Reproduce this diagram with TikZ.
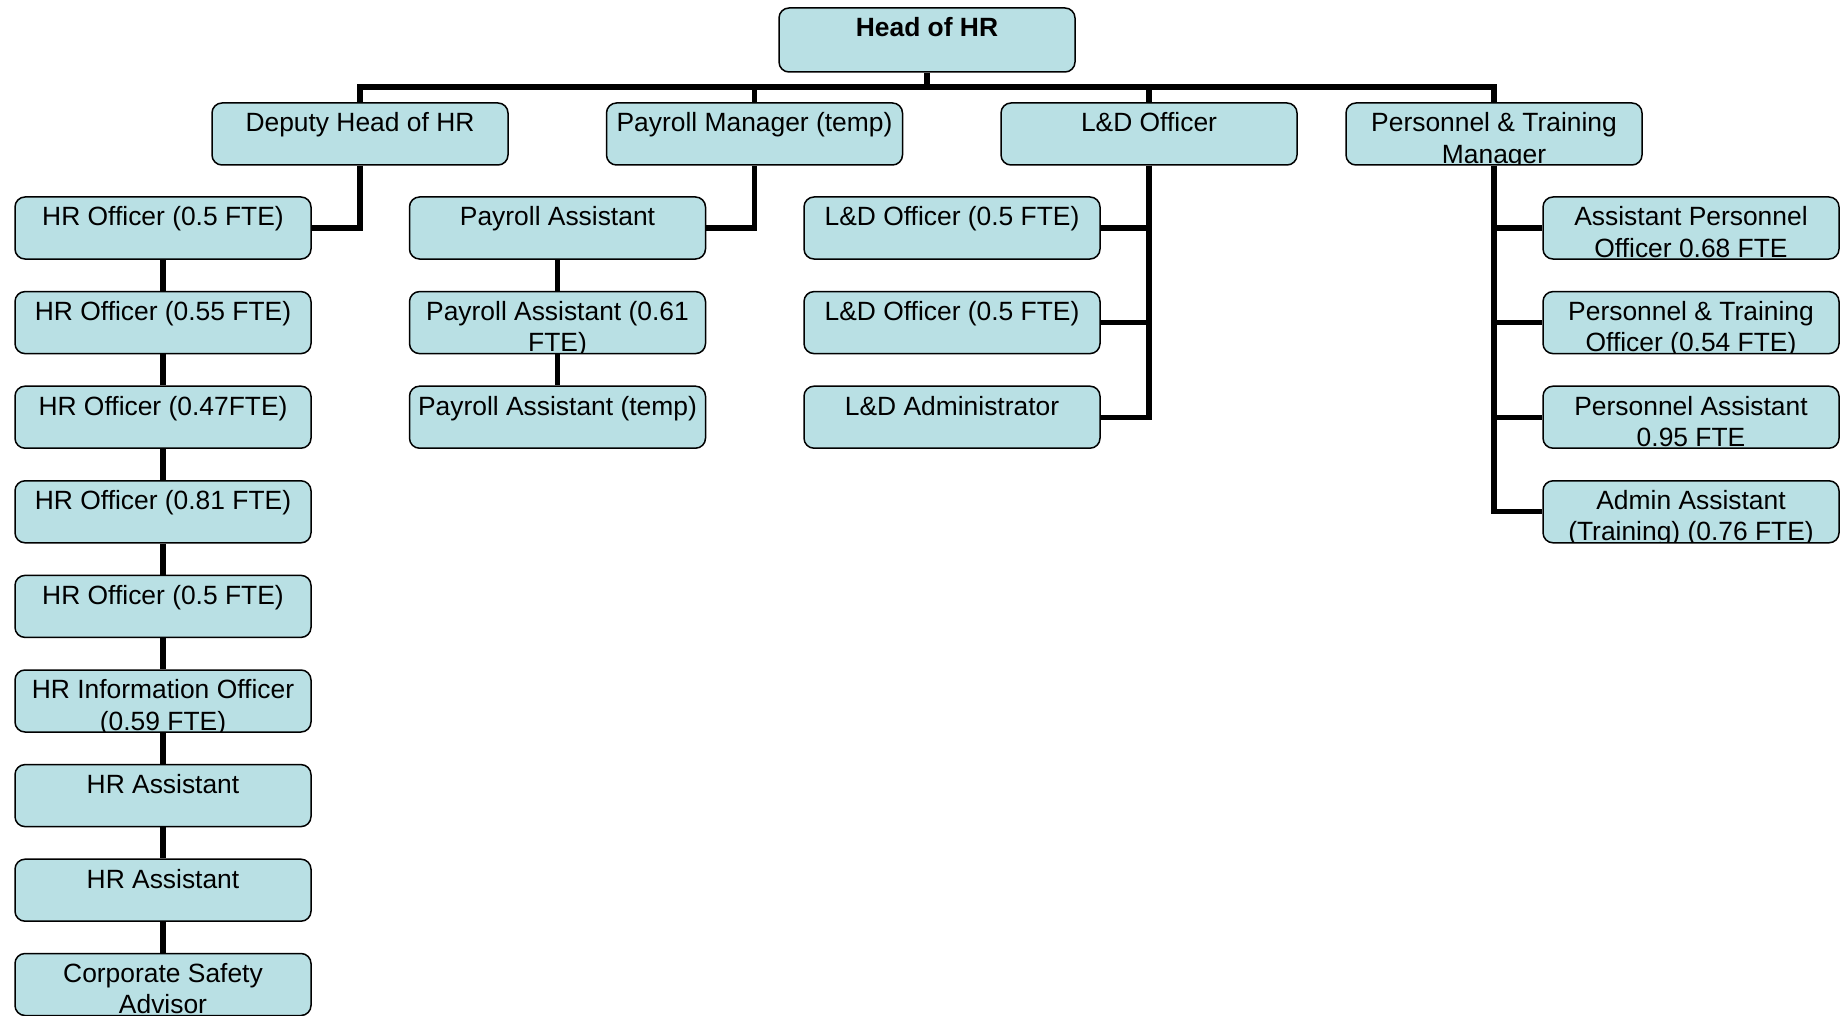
\documentclass[tikz,border=0pt]{standalone}
\usepackage{fontspec}
\setmainfont{Liberation Sans}
\definecolor{boxfill}{RGB}{185,224,228}
\tikzset{
  post/.style={draw=black, line width=0.75pt, fill=boxfill, rounded corners=5pt,
    minimum width=148pt, minimum height=31pt, inner sep=0pt,
    path picture={\node[anchor=north, align=center, inner sep=0pt, outer sep=0pt,
      minimum width=0pt, minimum height=0pt,
      font=\fontsize{13.2}{15.6}\selectfont]
      at ([yshift=-3.5pt]path picture bounding box.north) {\strut #1};}},
  conn/.style={draw=black, line width=2.6pt},
}

\begin{document}
\begin{tikzpicture}[x=0.5pt,y=-0.5pt]
   \useasboundingbox (0,0) rectangle (1840,1016);

   % top
   \node[post={\bfseries Head of HR}, minimum height=32pt] (head) at (927,40) {};
   \coordinate (bus) at (927,87);

   % second level
   \node[post={Deputy Head of HR}] (deputy) at (360,134) {};
   \node[post={Payroll Manager (temp)}] (payroll) at (754.5,134) {};
   \node[post={L\&D Officer}] (ld) at (1149,134) {};
   \node[post={Personnel \& Training\\Manager}] (ptm) at (1494,134) {};

   % HR officers
   \node[post={HR Officer (0.5 FTE)}] (hr1) at (163,228) {};
   \node[post={HR Officer (0.55 FTE)}] (hr2) at (163,322.6) {};
   \node[post={HR Officer (0.47FTE)}] (hr3) at (163,417.2) {};
   \node[post={HR Officer (0.81 FTE)}] (hr4) at (163,511.8) {};
   \node[post={HR Officer (0.5 FTE)}] (hr5) at (163,606.4) {};
   \node[post={HR Information Officer\\(0.59 FTE)}] (hr6) at (163,701) {};
   \node[post={HR Assistant}] (hr7) at (163,795.6) {};
   \node[post={HR Assistant}] (hr8) at (163,890.2) {};
   \node[post={Corporate Safety\\Advisor}] (hr9) at (163,984.5) {};

   % payroll
   \node[post={Payroll Assistant}] (pa1) at (557.5,228) {};
   \node[post={Payroll Assistant (0.61\\FTE)}] (pa2) at (557.5,322.6) {};
   \node[post={Payroll Assistant (temp)}] (pa3) at (557.5,417.2) {};

   % learning and development
   \node[post={L\&D Officer (0.5 FTE)}] (ld1) at (952,228) {};
   \node[post={L\&D Officer (0.5 FTE)}] (ld2) at (952,322.6) {};
   \node[post={L\&D Administrator}] (ld3) at (952,417.2) {};

   % personnel and training
   \node[post={Assistant Personnel\\Officer 0.68 FTE}] (pt1) at (1691,228) {};
   \node[post={Personnel \& Training\\Officer (0.54 FTE)}] (pt2) at (1691,322.6) {};
   \node[post={Personnel Assistant\\0.95 FTE}] (pt3) at (1691,417.2) {};
   \node[post={Admin Assistant\\(Training) (0.76 FTE)}] (pt4) at (1691,511.8) {};

   \draw[conn] (head.south) -- (bus);
   \foreach \n in {deputy,payroll,ld,ptm}
      \draw[conn] (bus) -| (\n.north);

   \draw[conn] (deputy.south) |- (hr1.east);
   \foreach \a/\b in {hr1/hr2,hr2/hr3,hr3/hr4,hr4/hr5,hr5/hr6,hr6/hr7,hr7/hr8,hr8/hr9}
      \path[conn] (\a) edge (\b);

   \draw[conn] (payroll.south) |- (pa1.east);
   \path[conn] (pa1) edge (pa2);
   \path[conn] (pa2) edge (pa3);

   \foreach \n in {ld1,ld2,ld3}
      \draw[conn] (ld.south) |- (\n.east);

   \foreach \n in {pt1,pt2,pt3,pt4}
      \draw[conn] (ptm.south) |- (\n.west);

\end{tikzpicture}
\end{document}
